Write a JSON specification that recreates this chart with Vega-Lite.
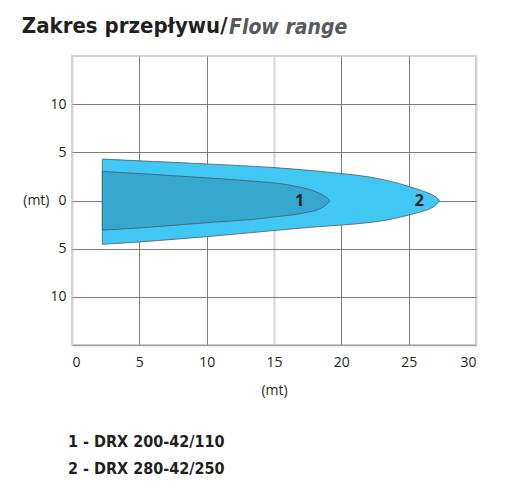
{
  "$schema": "https://vega.github.io/schema/vega-lite/v6.json",
  "background": "white",
  "padding": {"left": 21, "top": 15, "right": 5, "bottom": 5},
  "datasets": {
    "outer": [
      {"x": 2.25, "top": 4.3, "bottom": -4.55},
      {"x": 5, "top": 4.12, "bottom": -4.3},
      {"x": 10, "top": 3.8, "bottom": -3.75},
      {"x": 15, "top": 3.42, "bottom": -3.12},
      {"x": 18, "top": 3.08, "bottom": -2.75},
      {"x": 20, "top": 2.8, "bottom": -2.55},
      {"x": 22, "top": 2.46, "bottom": -2.3},
      {"x": 23.4, "top": 2.08, "bottom": -2.02},
      {"x": 24.87, "top": 1.52, "bottom": -1.56},
      {"x": 25.7, "top": 1.15, "bottom": -1.25},
      {"x": 26.35, "top": 0.83, "bottom": -0.98},
      {"x": 26.97, "top": 0.41, "bottom": -0.52},
      {"x": 27.15, "top": 0.22, "bottom": -0.27},
      {"x": 27.3, "top": 0, "bottom": 0}
    ],
    "inner": [
      {"x": 2.25, "top": 3.02, "bottom": -3.08},
      {"x": 5, "top": 2.8, "bottom": -2.85},
      {"x": 10, "top": 2.35, "bottom": -2.3},
      {"x": 14, "top": 1.95, "bottom": -1.88},
      {"x": 15.2, "top": 1.8, "bottom": -1.67},
      {"x": 16.7, "top": 1.45, "bottom": -1.43},
      {"x": 17.5, "top": 1.2, "bottom": -1.22},
      {"x": 18.2, "top": 0.86, "bottom": -0.98},
      {"x": 18.8, "top": 0.42, "bottom": -0.52},
      {"x": 19.0, "top": 0.22, "bottom": -0.27},
      {"x": 19.13, "top": 0, "bottom": 0}
    ],
    "tags": [
      {"x": 16.9, "y": 0, "label": "1"},
      {"x": 25.8, "y": 0, "label": "2"}
    ],
    "models": [
      {"line": "1 - DRX 200-42/110"},
      {"line": "2 - DRX 280-42/250"}
    ]
  },
  "title": {
    "text": "Zakres przepływu/",
    "anchor": "start",
    "font": "DejaVu Sans Condensed",
    "fontSize": 22,
    "fontWeight": "bold",
    "color": "#231f20",
    "offset": 0,
    "dy": 22
  },
  "vconcat": [
    {
      "width": 404,
      "height": 289,
      "title": {
        "text": "Flow range",
        "anchor": "start",
        "frame": "group",
        "dx": 157,
        "font": "DejaVu Sans Condensed",
        "fontSize": 21,
        "fontWeight": "bold",
        "fontStyle": "italic",
        "color": "#58595b",
        "offset": 18
      },
      "view": {"stroke": "#d4d4d4", "strokeWidth": 2},
      "layer": [
        {
          "data": {"name": "outer"},
          "mark": {"type": "area", "interpolate": "monotone", "fill": "#41c7f3", "fillOpacity": 1, "stroke": "#4a5a63", "strokeWidth": 0.8},
          "encoding": {
            "x": {
              "field": "x",
              "type": "quantitative",
              "scale": {"domain": [0, 30], "nice": false},
              "axis": {
                "values": [0, 5, 10, 15, 20, 25, 30],
                "grid": true,
                "gridColor": {"condition": {"test": "datum.value === 15 || datum.value === 0 || datum.value === 30", "value": "#d4d4d4"}, "value": "#7d7d7d"},
                "gridWidth": {"condition": {"test": "datum.value === 15 || datum.value === 0 || datum.value === 30", "value": 2}, "value": 1},
                "ticks": false,
                "domainColor": "#a3a3a3",
                "domainWidth": 1.5,
                "labelFont": "Open Sans",
                "labelFontSize": 14,
                "labelColor": "#231f20",
                "labelPadding": 10,
                "title": "(mt)",
                "titleFont": "Open Sans",
                "titleFontSize": 14,
                "titleFontWeight": "normal",
                "titleColor": "#231f20",
                "titlePadding": 14
              }
            },
            "y": {
              "field": "top",
              "type": "quantitative",
              "scale": {"domain": [-15, 15], "nice": false},
              "axis": {
                "values": [-10, -5, 0, 5, 10],
                "labelExpr": "format(abs(datum.value), 'd')",
                "grid": true,
                "gridColor": "#7d7d7d",
                "gridWidth": 1,
                "ticks": false,
                "domain": false,
                "labelFont": "Open Sans",
                "labelFontSize": 14,
                "labelColor": "#231f20",
                "labelPadding": 6,
                "title": "(mt)",
                "titleFont": "Open Sans",
                "titleFontSize": 14,
                "titleFontWeight": "normal",
                "titleColor": "#231f20",
                "titleAngle": 0,
                "titleAlign": "right",
                "titleBaseline": "middle",
                "titleX": -23,
                "titleY": 144.5
              }
            },
            "y2": {"field": "bottom"}
          }
        },
        {
          "data": {"name": "inner"},
          "mark": {"type": "area", "interpolate": "monotone", "fill": "#36a7cf", "fillOpacity": 1, "stroke": "#4a5a63", "strokeWidth": 0.8},
          "encoding": {
            "x": {"field": "x", "type": "quantitative"},
            "y": {"field": "top", "type": "quantitative"},
            "y2": {"field": "bottom"}
          }
        },
        {
          "data": {"name": "tags"},
          "mark": {"type": "text", "font": "Open Sans", "fontSize": 16, "fontWeight": "bold", "color": "#231f20", "baseline": "middle"},
          "encoding": {
            "x": {"field": "x", "type": "quantitative"},
            "y": {"field": "y", "type": "quantitative"},
            "text": {"field": "label"}
          }
        }
      ]
    },
    {
      "data": {"name": "models"},
      "width": 404,
      "height": 54,
      "view": {"stroke": null},
      "mark": {"type": "text", "align": "left", "baseline": "middle", "font": "DejaVu Sans Condensed", "fontWeight": "bold", "fontSize": 16, "color": "#231f20", "dx": -4},
      "encoding": {
        "x": {"datum": 0, "type": "quantitative", "scale": {"domain": [0, 30]}, "axis": null},
        "y": {"field": "line", "type": "nominal", "sort": null, "axis": null},
        "text": {"field": "line"}
      }
    }
  ],
  "spacing": 30
}
